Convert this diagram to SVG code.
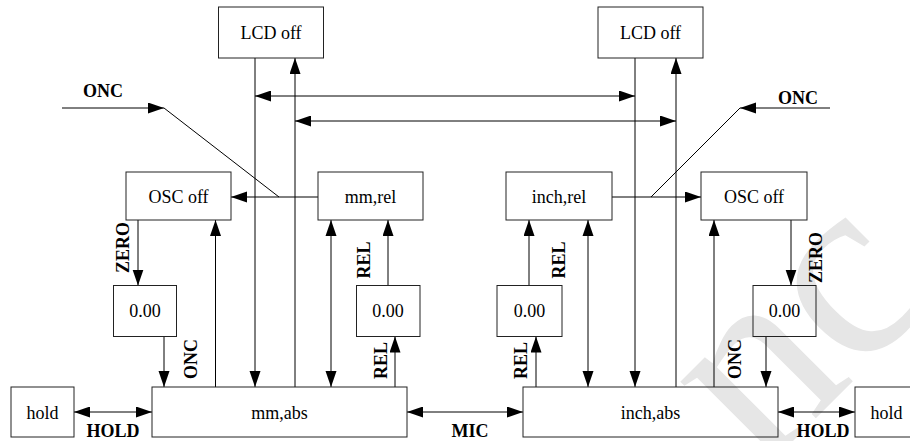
<svg xmlns="http://www.w3.org/2000/svg" width="910" height="441" viewBox="0 0 910 441">
<style>
  .box { fill: none; stroke: #222; stroke-width: 1; }
  .t { font-family: "Liberation Serif", "Times New Roman", serif; font-size: 18px; text-anchor: middle; fill: #000; }
  .b { font-family: "Liberation Serif", "Times New Roman", serif; font-size: 18px; font-weight: bold; text-anchor: middle; fill: #000; }
  .c { fill: none; stroke: #000; stroke-width: 1; }
  .e { marker-end: url(#ah); }
  .s { marker-start: url(#ahs); }
  .wm { font-family: "Liberation Serif", "Times New Roman", serif; font-size: 265px; fill: #e6e6e6; }
</style>
<defs>
  <marker id="ah" markerUnits="userSpaceOnUse" markerWidth="18" markerHeight="12" refX="16" refY="5.5" orient="auto">
    <path d="M0,0 L16,5.5 L0,11 Z" fill="#000"/>
  </marker>
  <marker id="ahs" markerUnits="userSpaceOnUse" markerWidth="18" markerHeight="12" refX="0" refY="5.5" orient="auto">
    <path d="M16,0 L0,5.5 L16,11 Z" fill="#000"/>
  </marker>
</defs>
<rect width="910" height="441" fill="#fff"/>
<text class="wm" x="762" y="472" transform="rotate(-45 762 472)">nc</text>

<g id="connectors">
  <line class="c e" x1="255" y1="58" x2="255" y2="387"/>
  <line class="c e" x1="295" y1="387" x2="295" y2="58"/>
  <line class="c e s" x1="255" y1="96" x2="635" y2="96"/>
  <line class="c e s" x1="295" y1="121" x2="676" y2="121"/>
  <line class="c e" x1="635" y1="58" x2="635" y2="387"/>
  <line class="c e" x1="676" y1="387" x2="676" y2="58"/>
  <line class="c e" x1="62" y1="108" x2="164" y2="108"/>
  <line class="c" x1="164" y1="108" x2="279" y2="197"/>
  <line class="c e" x1="318" y1="197" x2="231" y2="197"/>
  <line class="c e" x1="830" y1="108" x2="740" y2="108"/>
  <line class="c" x1="740" y1="108" x2="651" y2="197"/>
  <line class="c e" x1="612" y1="197" x2="701" y2="197"/>
  <line class="c e" x1="138" y1="220" x2="138" y2="285.5"/>
  <line class="c e" x1="164" y1="336.5" x2="164" y2="387"/>
  <line class="c e" x1="215.5" y1="387" x2="215.5" y2="220"/>
  <line class="c e s" x1="331" y1="220" x2="331" y2="387"/>
  <line class="c e" x1="388" y1="285.5" x2="388" y2="220"/>
  <line class="c e" x1="395" y1="387" x2="395" y2="336.5"/>
  <line class="c e s" x1="74" y1="412" x2="152" y2="412"/>
  <line class="c e s" x1="407" y1="412" x2="523" y2="412"/>
  <line class="c e s" x1="778" y1="412" x2="855" y2="412"/>
  <line class="c e" x1="536" y1="387" x2="536" y2="336.5"/>
  <line class="c e" x1="529" y1="285.5" x2="529" y2="220"/>
  <line class="c e s" x1="588" y1="220" x2="588" y2="387"/>
  <line class="c e" x1="714" y1="387" x2="714" y2="220"/>
  <line class="c e" x1="791" y1="220" x2="791" y2="285.5"/>
  <line class="c e" x1="766" y1="336.5" x2="766" y2="387"/>
</g>

<g id="labels">
  <text class="b" x="103" y="97">ONC</text>
  <text class="b" x="798" y="104">ONC</text>
  <text class="b" x="113" y="437">HOLD</text>
  <text class="b" x="823" y="437">HOLD</text>
  <text class="b" x="470" y="437">MIC</text>
  <text class="b" transform="translate(129 247.5) rotate(-90)">ZERO</text>
  <text class="b" transform="translate(197 359) rotate(-90)">ONC</text>
  <text class="b" transform="translate(370 260) rotate(-90)">REL</text>
  <text class="b" transform="translate(387 360.5) rotate(-90)">REL</text>
  <text class="b" transform="translate(527 360.5) rotate(-90)">REL</text>
  <text class="b" transform="translate(565 260) rotate(-90)">REL</text>
  <text class="b" transform="translate(741 359) rotate(-90)">ONC</text>
  <text class="b" transform="translate(822 257.5) rotate(-90)">ZERO</text>
</g>

<g id="lcd-off-left"><rect class="box" x="218.5" y="7" width="105" height="51"/><text class="t" x="271" y="39">LCD off</text></g>
<g id="lcd-off-right"><rect class="box" x="598" y="7" width="105" height="51"/><text class="t" x="650.5" y="39">LCD off</text></g>
<g id="osc-off-left"><rect class="box" x="126" y="172" width="105" height="48"/><text class="t" x="178.5" y="203">OSC off</text></g>
<g id="mm-rel"><rect class="box" x="318" y="172" width="105" height="48"/><text class="t" x="370.5" y="203">mm,rel</text></g>
<g id="inch-rel"><rect class="box" x="506" y="172" width="106" height="48"/><text class="t" x="559" y="203">inch,rel</text></g>
<g id="osc-off-right"><rect class="box" x="701" y="172" width="106" height="48"/><text class="t" x="754" y="203">OSC off</text></g>
<g id="zero-l1"><rect class="box" x="113.5" y="285.5" width="63" height="51"/><text class="t" x="145" y="317">0.00</text></g>
<g id="zero-l2"><rect class="box" x="356.5" y="285.5" width="63.5" height="51"/><text class="t" x="388" y="317">0.00</text></g>
<g id="zero-r1"><rect class="box" x="497" y="285.5" width="65" height="51"/><text class="t" x="529.5" y="317">0.00</text></g>
<g id="zero-r2"><rect class="box" x="753" y="285.5" width="63" height="51"/><text class="t" x="784.5" y="317">0.00</text></g>
<g id="hold-left"><rect class="box" x="11" y="387" width="63" height="50"/><text class="t" x="42.5" y="419">hold</text></g>
<g id="mm-abs"><rect class="box" x="152" y="387" width="255" height="50"/><text class="t" x="279.5" y="419">mm,abs</text></g>
<g id="inch-abs"><rect class="box" x="523" y="387" width="255" height="50"/><text class="t" x="650.5" y="419">inch,abs</text></g>
<g id="hold-right"><rect class="box" x="855" y="387" width="63" height="50"/><text class="t" x="886.5" y="419">hold</text></g>
</svg>
